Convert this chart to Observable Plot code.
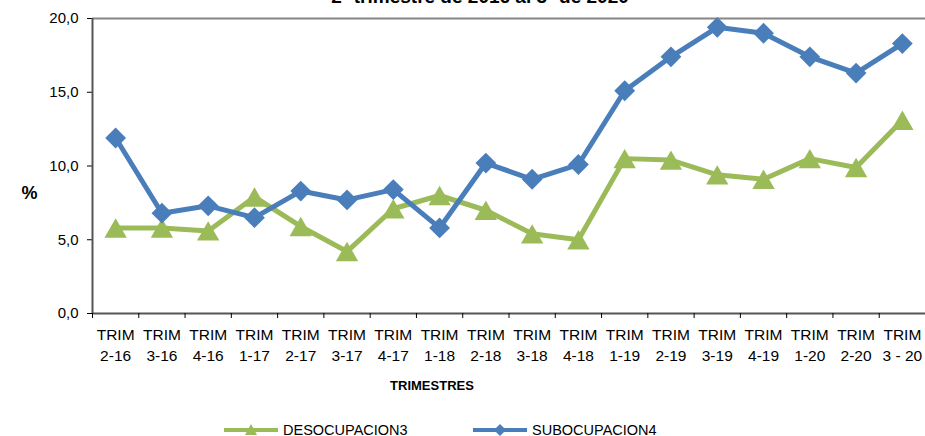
<!DOCTYPE html>
<html><head><meta charset="utf-8">
<script src="https://cdn.jsdelivr.net/npm/d3@7"></script>
<script src="https://cdn.jsdelivr.net/npm/@observablehq/plot@0.6"></script>
<style>
body{margin:0;width:925px;height:436px;overflow:hidden;position:relative;background:#fff;font-family:"Liberation Sans",Arial,sans-serif;}
#title{position:absolute;top:-14px;left:0;width:960px;text-align:center;font-weight:bold;font-size:19px;color:#000;white-space:nowrap;}
#chart{position:absolute;top:0;left:0;}
#xlabel{position:absolute;top:378px;left:0;width:864px;text-align:center;font-weight:bold;font-size:13px;}
.item{position:absolute;top:422px;display:flex;align-items:center;font-size:14.5px;}
.item svg{margin-right:5px;}
</style></head><body>
<div id="title">2<sup style="font-size:11px">o</sup> trimestre de 2016 al 3<sup style="font-size:11px">o</sup> de 2020</div>
<div id="chart"></div>
<div id="xlabel">TRIMESTRES</div>
<div id="legend"></div>
<script>
const categories = ["TRIM\n2-16","TRIM\n3-16","TRIM\n4-16","TRIM\n1-17","TRIM\n2-17","TRIM\n3-17","TRIM\n4-17","TRIM\n1-18","TRIM\n2-18","TRIM\n3-18","TRIM\n4-18","TRIM\n1-19","TRIM\n2-19","TRIM\n3-19","TRIM\n4-19","TRIM\n1-20","TRIM\n2-20","TRIM\n3 - 20"];
const desocupacion = [5.8,5.8,5.6,7.9,5.9,4.2,7.1,8.0,7.0,5.4,5.0,10.5,10.4,9.4,9.1,10.5,9.9,13.1];
const subocupacion = [11.9,6.8,7.3,6.5,8.3,7.7,8.4,5.8,10.2,9.1,10.1,15.1,17.4,19.4,19.0,17.4,16.3,18.3];
const yTicks = [0,5,10,15,20];
const seriesNames = ["DESOCUPACION3","SUBOCUPACION4"];
const colors = ["#9BBB59","#4A7EBB"];

const n = categories.length;
const green = desocupacion.map((v,i)=>({i:i+0.5, v}));
const blue = subocupacion.map((v,i)=>({i:i+0.5, v}));
const fmt = d3.format(".1f");
const diamond = {draw(ctx, size){ const h = Math.sqrt(size/2); ctx.moveTo(0,-h); ctx.lineTo(h,0); ctx.lineTo(0,h); ctx.lineTo(-h,0); ctx.closePath(); }};
const triangle = {draw(ctx, size){ const s = Math.sqrt(size*4/Math.sqrt(3)); const ht = s*Math.sqrt(3)/2; ctx.moveTo(0,-ht/2); ctx.lineTo(s/2,ht/2); ctx.lineTo(-s/2,ht/2); ctx.closePath(); }};

const plot = Plot.plot({
  width:925, height:370,
  marginLeft:92, marginRight:0, marginTop:18, marginBottom:57,
  style:{fontFamily:"Liberation Sans, Arial, sans-serif", fontSize:"15px", color:"#000", background:"transparent"},
  x:{domain:[0,n], axis:null},
  y:{domain:[0,20], axis:null},
  marks:[
    Plot.ruleY([20],{stroke:"#868686",strokeWidth:2}),
    Plot.axisY({ticks:yTicks, tickFormat:d=>fmt(d).replace(".",","), tickSize:5, tickPadding:9, fontSize:15, stroke:"#000", label:null}),
    Plot.ruleX([0],{stroke:"#555",strokeWidth:2}),
    Plot.ruleY([0],{stroke:"#555",strokeWidth:2}),
    Plot.axisX({ticks:d3.range(n+1), tickFormat:()=>"", tickSize:5, label:null, stroke:"#000"}),
    Plot.axisX({ticks:d3.range(n).map(i=>i+0.5), tickFormat:d=>categories[Math.floor(d)], tickSize:0, tickPadding:12, lineHeight:1.33, fontSize:15.5, label:null}),
    Plot.line(green,{x:"i",y:"v",stroke:colors[0],strokeWidth:5}),
    Plot.line(blue,{x:"i",y:"v",stroke:colors[1],strokeWidth:5}),
    Plot.dot(green,{x:"i",y:"v",symbol:triangle,r:8.3,fill:colors[0],stroke:"none"}),
    Plot.dot(blue,{x:"i",y:"v",symbol:diamond,r:8.3,fill:colors[1],stroke:"none"}),
    Plot.text(["%"],{frameAnchor:"left",dx:-71,dy:27,text:d=>d,fontWeight:"bold",fontSize:18})
  ]
});
document.getElementById("chart").appendChild(plot);

const leg = document.getElementById("legend");
const lefts = [224, 473];
seriesNames.forEach((s,k)=>{
  const it = document.createElement("div"); it.className="item"; it.style.left = lefts[k]+"px";
  const sym = k===0 ? '<path d="M27,0 L33,11 L21,11 Z" fill="'+colors[k]+'"/>' : '<path d="M27,0 L33,6 L27,12 L21,6 Z" fill="'+colors[k]+'"/>';
  it.innerHTML = '<svg width="54" height="12"><line x1="0" y1="6" x2="54" y2="6" stroke="'+colors[k]+'" stroke-width="4"/>'+sym+'</svg><span>'+s+'</span>';
  leg.appendChild(it);
});
</script>
</body></html>
